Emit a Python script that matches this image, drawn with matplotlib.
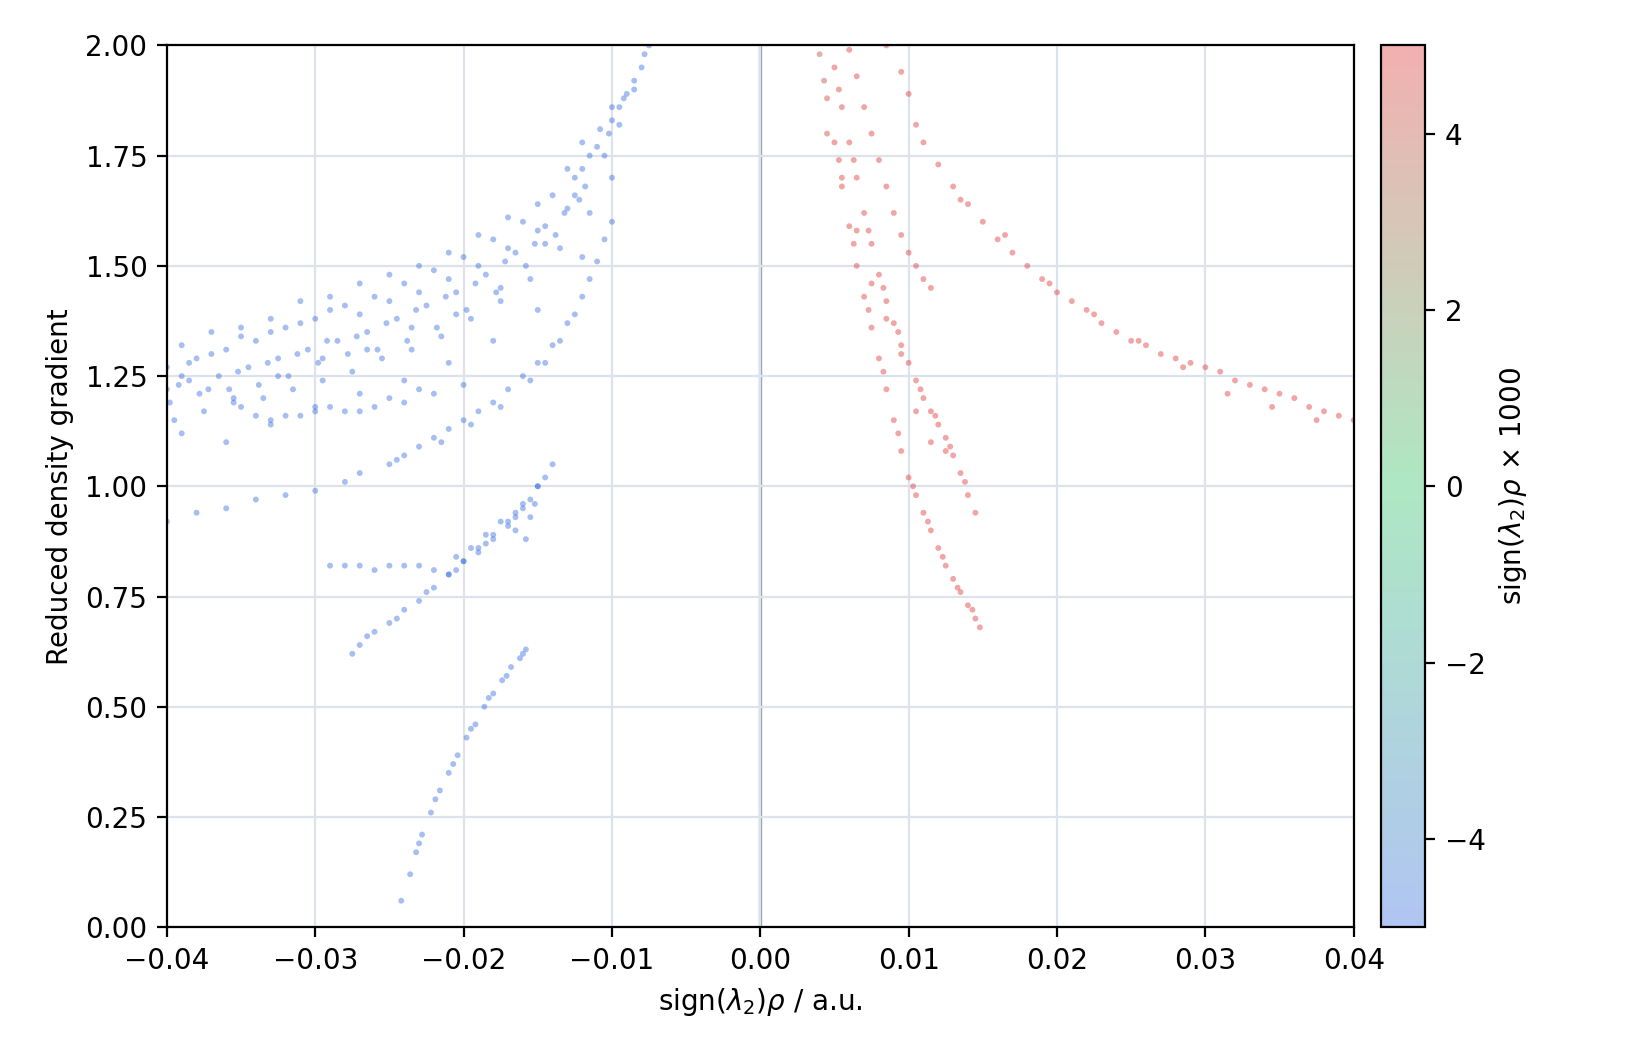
import matplotlib.pyplot as plt
import numpy as np
from matplotlib.colors import LinearSegmentedColormap

# attractive (blue) branches: sign(l2)*rho, reduced density gradient
blue_x = [
    # main dense band, upper row
    -0.040, -0.038, -0.036, -0.034, -0.032, -0.030, -0.028, -0.026, -0.024, -0.022, -0.020, -0.018, -0.016, -0.014, -0.012, -0.011, -0.010, -0.009, -0.008, -0.0075,
    -0.039, -0.037, -0.035, -0.033, -0.031, -0.029, -0.027, -0.025, -0.023, -0.021, -0.019, -0.017, -0.015, -0.013, -0.0115, -0.0095, -0.0085, -0.0078,
    # main band, middle row
    -0.040, -0.0385, -0.0365, -0.0345, -0.0325, -0.0305, -0.0285, -0.0265, -0.0245, -0.0225, -0.0205, -0.0185, -0.0165, -0.0145, -0.0125, -0.0105, -0.0095, -0.0085,
    -0.0392, -0.0372, -0.0352, -0.0332, -0.0312, -0.0292, -0.0272, -0.0252, -0.0232, -0.0212, -0.0192, -0.0172, -0.0152, -0.0132, -0.0118, -0.0102,
    # main band, lower row
    -0.0395, -0.0375, -0.0355, -0.0335, -0.0315, -0.0295, -0.0275, -0.0255, -0.0235, -0.0215, -0.0195, -0.0175, -0.0155, -0.0135, -0.0115, -0.0100,
    -0.0398, -0.0378, -0.0358, -0.0338, -0.0318, -0.0298, -0.0278, -0.0258, -0.0238, -0.0218, -0.0198, -0.0178, -0.0158, -0.0138, -0.0122,
    # main band, scattered fill
    -0.039, -0.037, -0.035, -0.033, -0.031, -0.029, -0.027, -0.025, -0.023, -0.021, -0.019, -0.017, -0.015, -0.013, -0.012, -0.010,
    -0.039, -0.036, -0.033, -0.030, -0.027, -0.024, -0.021, -0.018, -0.015, -0.012,
    -0.0385, -0.0355, -0.0325, -0.0295, -0.0265, -0.0235, -0.0205, -0.0175, -0.0145, -0.0125, -0.0108, -0.0092,
    # lower edge of band near 1.16
    -0.034, -0.032, -0.030, -0.028, -0.026, -0.024, -0.022, -0.020,
    -0.035, -0.033, -0.031, -0.029, -0.027, -0.025, -0.023,
    # branch from 0.92 to 1.6
    -0.040, -0.038, -0.036, -0.034, -0.032, -0.030, -0.028, -0.027, -0.025, -0.024, -0.023, -0.022, -0.021, -0.020, -0.019, -0.018, -0.017, -0.016, -0.015, -0.014, -0.013, -0.012, -0.0115, -0.011, -0.0105, -0.010,
    -0.0245, -0.0215, -0.0195, -0.0175, -0.0155, -0.0145, -0.0135, -0.0125,
    # flat 0.82 branch rising to 1.02
    -0.029, -0.028, -0.027, -0.026, -0.025, -0.024, -0.023, -0.022, -0.021, -0.020, -0.019, -0.018, -0.017, -0.0165, -0.016, -0.0155, -0.015, -0.0145,
    -0.0205, -0.0195, -0.0185, -0.0175, -0.0165, -0.0155, -0.0158, -0.0152,
    # branch 0.62 to 1.06
    -0.0275, -0.027, -0.026, -0.025, -0.024, -0.023, -0.022, -0.021, -0.020, -0.019, -0.018, -0.017, -0.016, -0.015, -0.014,
    -0.0265, -0.0245, -0.0225, -0.0205, -0.0185, -0.0165,
    # steep branch 0.06 to 0.63
    -0.0242, -0.0236, -0.0232, -0.0228, -0.0222, -0.0216, -0.0210, -0.0204, -0.0198, -0.0192, -0.0186, -0.0180, -0.0174, -0.0168, -0.0162, -0.0158,
    -0.0230, -0.0219, -0.0207, -0.0195, -0.0183, -0.0171, -0.0160,
]
blue_y = [
    1.27, 1.29, 1.31, 1.33, 1.36, 1.38, 1.41, 1.43, 1.46, 1.49, 1.52, 1.56, 1.60, 1.66, 1.72, 1.77, 1.83, 1.89, 1.95, 2.00,
    1.25, 1.30, 1.34, 1.35, 1.37, 1.40, 1.39, 1.42, 1.44, 1.47, 1.50, 1.54, 1.58, 1.63, 1.75, 1.86, 1.92, 1.98,
    1.22, 1.24, 1.25, 1.27, 1.29, 1.31, 1.33, 1.35, 1.38, 1.41, 1.44, 1.48, 1.53, 1.59, 1.66, 1.75, 1.82, 1.90,
    1.23, 1.22, 1.26, 1.28, 1.30, 1.33, 1.34, 1.37, 1.40, 1.43, 1.46, 1.51, 1.55, 1.62, 1.68, 1.80,
    1.15, 1.17, 1.19, 1.20, 1.22, 1.24, 1.26, 1.29, 1.31, 1.34, 1.38, 1.42, 1.47, 1.54, 1.62, 1.70,
    1.19, 1.21, 1.22, 1.23, 1.25, 1.28, 1.30, 1.31, 1.33, 1.36, 1.40, 1.44, 1.50, 1.57, 1.65,
    1.32, 1.35, 1.36, 1.38, 1.42, 1.43, 1.46, 1.48, 1.50, 1.53, 1.57, 1.61, 1.64, 1.72, 1.78, 1.86,
    1.12, 1.10, 1.14, 1.18, 1.21, 1.24, 1.28, 1.33, 1.40, 1.52,
    1.28, 1.20, 1.25, 1.29, 1.31, 1.36, 1.39, 1.45, 1.55, 1.70, 1.81, 1.88,
    1.16, 1.16, 1.17, 1.17, 1.18, 1.19, 1.21, 1.23,
    1.18, 1.15, 1.16, 1.18, 1.17, 1.20, 1.22,
    0.92, 0.94, 0.95, 0.97, 0.98, 0.99, 1.01, 1.03, 1.05, 1.07, 1.09, 1.11, 1.13, 1.15, 1.17, 1.19, 1.22, 1.25, 1.28, 1.32, 1.37, 1.43, 1.47, 1.51, 1.56, 1.60,
    1.06, 1.10, 1.14, 1.18, 1.24, 1.28, 1.33, 1.39,
    0.82, 0.82, 0.82, 0.81, 0.82, 0.82, 0.82, 0.81, 0.80, 0.83, 0.85, 0.88, 0.91, 0.93, 0.95, 0.97, 1.00, 1.02,
    0.84, 0.86, 0.89, 0.92, 0.90, 0.93, 0.88, 0.96,
    0.62, 0.64, 0.67, 0.69, 0.72, 0.74, 0.77, 0.80, 0.83, 0.86, 0.89, 0.92, 0.96, 1.00, 1.05,
    0.66, 0.70, 0.76, 0.81, 0.87, 0.94,
    0.06, 0.12, 0.17, 0.21, 0.26, 0.31, 0.35, 0.39, 0.43, 0.46, 0.50, 0.53, 0.56, 0.59, 0.61, 0.63,
    0.19, 0.29, 0.37, 0.45, 0.52, 0.57, 0.62,
]

# repulsive (red) branches
red_x = [
    0.0040, 0.0045, 0.0050, 0.0055, 0.0060, 0.0065, 0.0070, 0.0075, 0.0080, 0.0085, 0.0090, 0.0095, 0.0100, 0.0105, 0.0110, 0.0115, 0.0120, 0.0125, 0.0130, 0.0135, 0.0140, 0.0145, 0.0148,
    0.0043, 0.0053, 0.0063, 0.0073, 0.0083, 0.0093, 0.0103, 0.0113, 0.0123, 0.0133, 0.0143,
    0.0050, 0.0055, 0.0060, 0.0065, 0.0070, 0.0075, 0.0080, 0.0085, 0.0090, 0.0095, 0.0100, 0.0105, 0.0110, 0.0115, 0.0120, 0.0125, 0.0130, 0.0135, 0.0140, 0.0145,
    0.0053, 0.0063, 0.0073, 0.0083, 0.0093, 0.0108, 0.0118, 0.0128, 0.0138,
    0.0060, 0.0065, 0.0070, 0.0075, 0.0080, 0.0085, 0.0090, 0.0095, 0.0100, 0.0105, 0.0110, 0.0115,
    0.0045, 0.0055, 0.0065, 0.0075, 0.0085, 0.0095, 0.0105, 0.0115, 0.0125,
    0.0085, 0.0095, 0.0100, 0.0105, 0.0110, 0.0120, 0.0130, 0.0140, 0.0150, 0.0160, 0.0170, 0.0180, 0.0190, 0.0200, 0.0210, 0.0220, 0.0230, 0.0240, 0.0250, 0.0260, 0.0270, 0.0280, 0.0290, 0.0300, 0.0310, 0.0320, 0.0330, 0.0340, 0.0350, 0.0360, 0.0370, 0.0380, 0.0390, 0.0400,
    0.0135, 0.0165, 0.0195, 0.0225, 0.0255, 0.0285, 0.0315, 0.0345, 0.0375,
]
red_y = [
    1.98, 1.88, 1.78, 1.68, 1.59, 1.50, 1.43, 1.36, 1.29, 1.22, 1.15, 1.08, 1.02, 0.98, 0.94, 0.90, 0.86, 0.82, 0.79, 0.76, 0.73, 0.70, 0.68,
    1.92, 1.74, 1.55, 1.40, 1.26, 1.12, 1.00, 0.92, 0.84, 0.77, 0.72,
    1.95, 1.86, 1.78, 1.70, 1.62, 1.55, 1.48, 1.42, 1.37, 1.32, 1.28, 1.24, 1.20, 1.17, 1.14, 1.11, 1.07, 1.03, 0.98, 0.94,
    1.90, 1.74, 1.58, 1.45, 1.35, 1.22, 1.16, 1.09, 1.01,
    1.99, 1.93, 1.86, 1.80, 1.74, 1.68, 1.62, 1.57, 1.53, 1.50, 1.47, 1.45,
    1.80, 1.70, 1.58, 1.46, 1.38, 1.30, 1.17, 1.10, 1.08,
    2.00, 1.94, 1.89, 1.82, 1.78, 1.73, 1.68, 1.64, 1.60, 1.56, 1.53, 1.50, 1.47, 1.44, 1.42, 1.40, 1.37, 1.35, 1.33, 1.32, 1.30, 1.29, 1.28, 1.27, 1.26, 1.24, 1.23, 1.22, 1.21, 1.20, 1.18, 1.17, 1.16, 1.15,
    1.65, 1.57, 1.46, 1.39, 1.33, 1.27, 1.21, 1.18, 1.15,
]

x = np.array(blue_x + red_x)
y = np.array(blue_y + red_y)
c = np.clip(x * 1000, -5, 5)

cmap = LinearSegmentedColormap.from_list(
    'nci', [(0.0, '#3b6fe0'), (0.5, '#34c56a'), (1.0, '#e03b3b')])

fig = plt.figure(figsize=(8.14, 5.28), dpi=200)
ax = fig.add_axes([0.1025, 0.122, 0.729, 0.835])
cax = fig.add_axes([0.8485, 0.122, 0.027, 0.835])

ax.grid(True, color='#dde3ec', linewidth=0.8, zorder=0)
ax.axvline(0, color='#8fa0b4', linewidth=1.2, zorder=1)
sc = ax.scatter(x, y, c=c, cmap=cmap, vmin=-5, vmax=5, s=4.5, alpha=0.45,
                linewidths=0, zorder=2)
ax.set_xlim(-0.04, 0.04)
ax.set_ylim(0, 2)
ax.set_xticks(np.arange(-0.04, 0.041, 0.01))
ax.set_xticklabels(['\u22120.04', '\u22120.03', '\u22120.02', '\u22120.01', '0.00',
                    '0.01', '0.02', '0.03', '0.04'])
ax.set_yticks(np.arange(0, 2.01, 0.25))
ax.set_xlabel(r'sign($\lambda_2$)$\rho$ / a.u.')
ax.set_ylabel('Reduced density gradient')

cb = fig.colorbar(sc, cax=cax)
cb.solids.set_alpha(0.4)
cb.set_ticks([-4, -2, 0, 2, 4])
cb.set_label(r'sign($\lambda_2$)$\rho$ $\times$ 1000')

fig.savefig('out.png', dpi=200)
